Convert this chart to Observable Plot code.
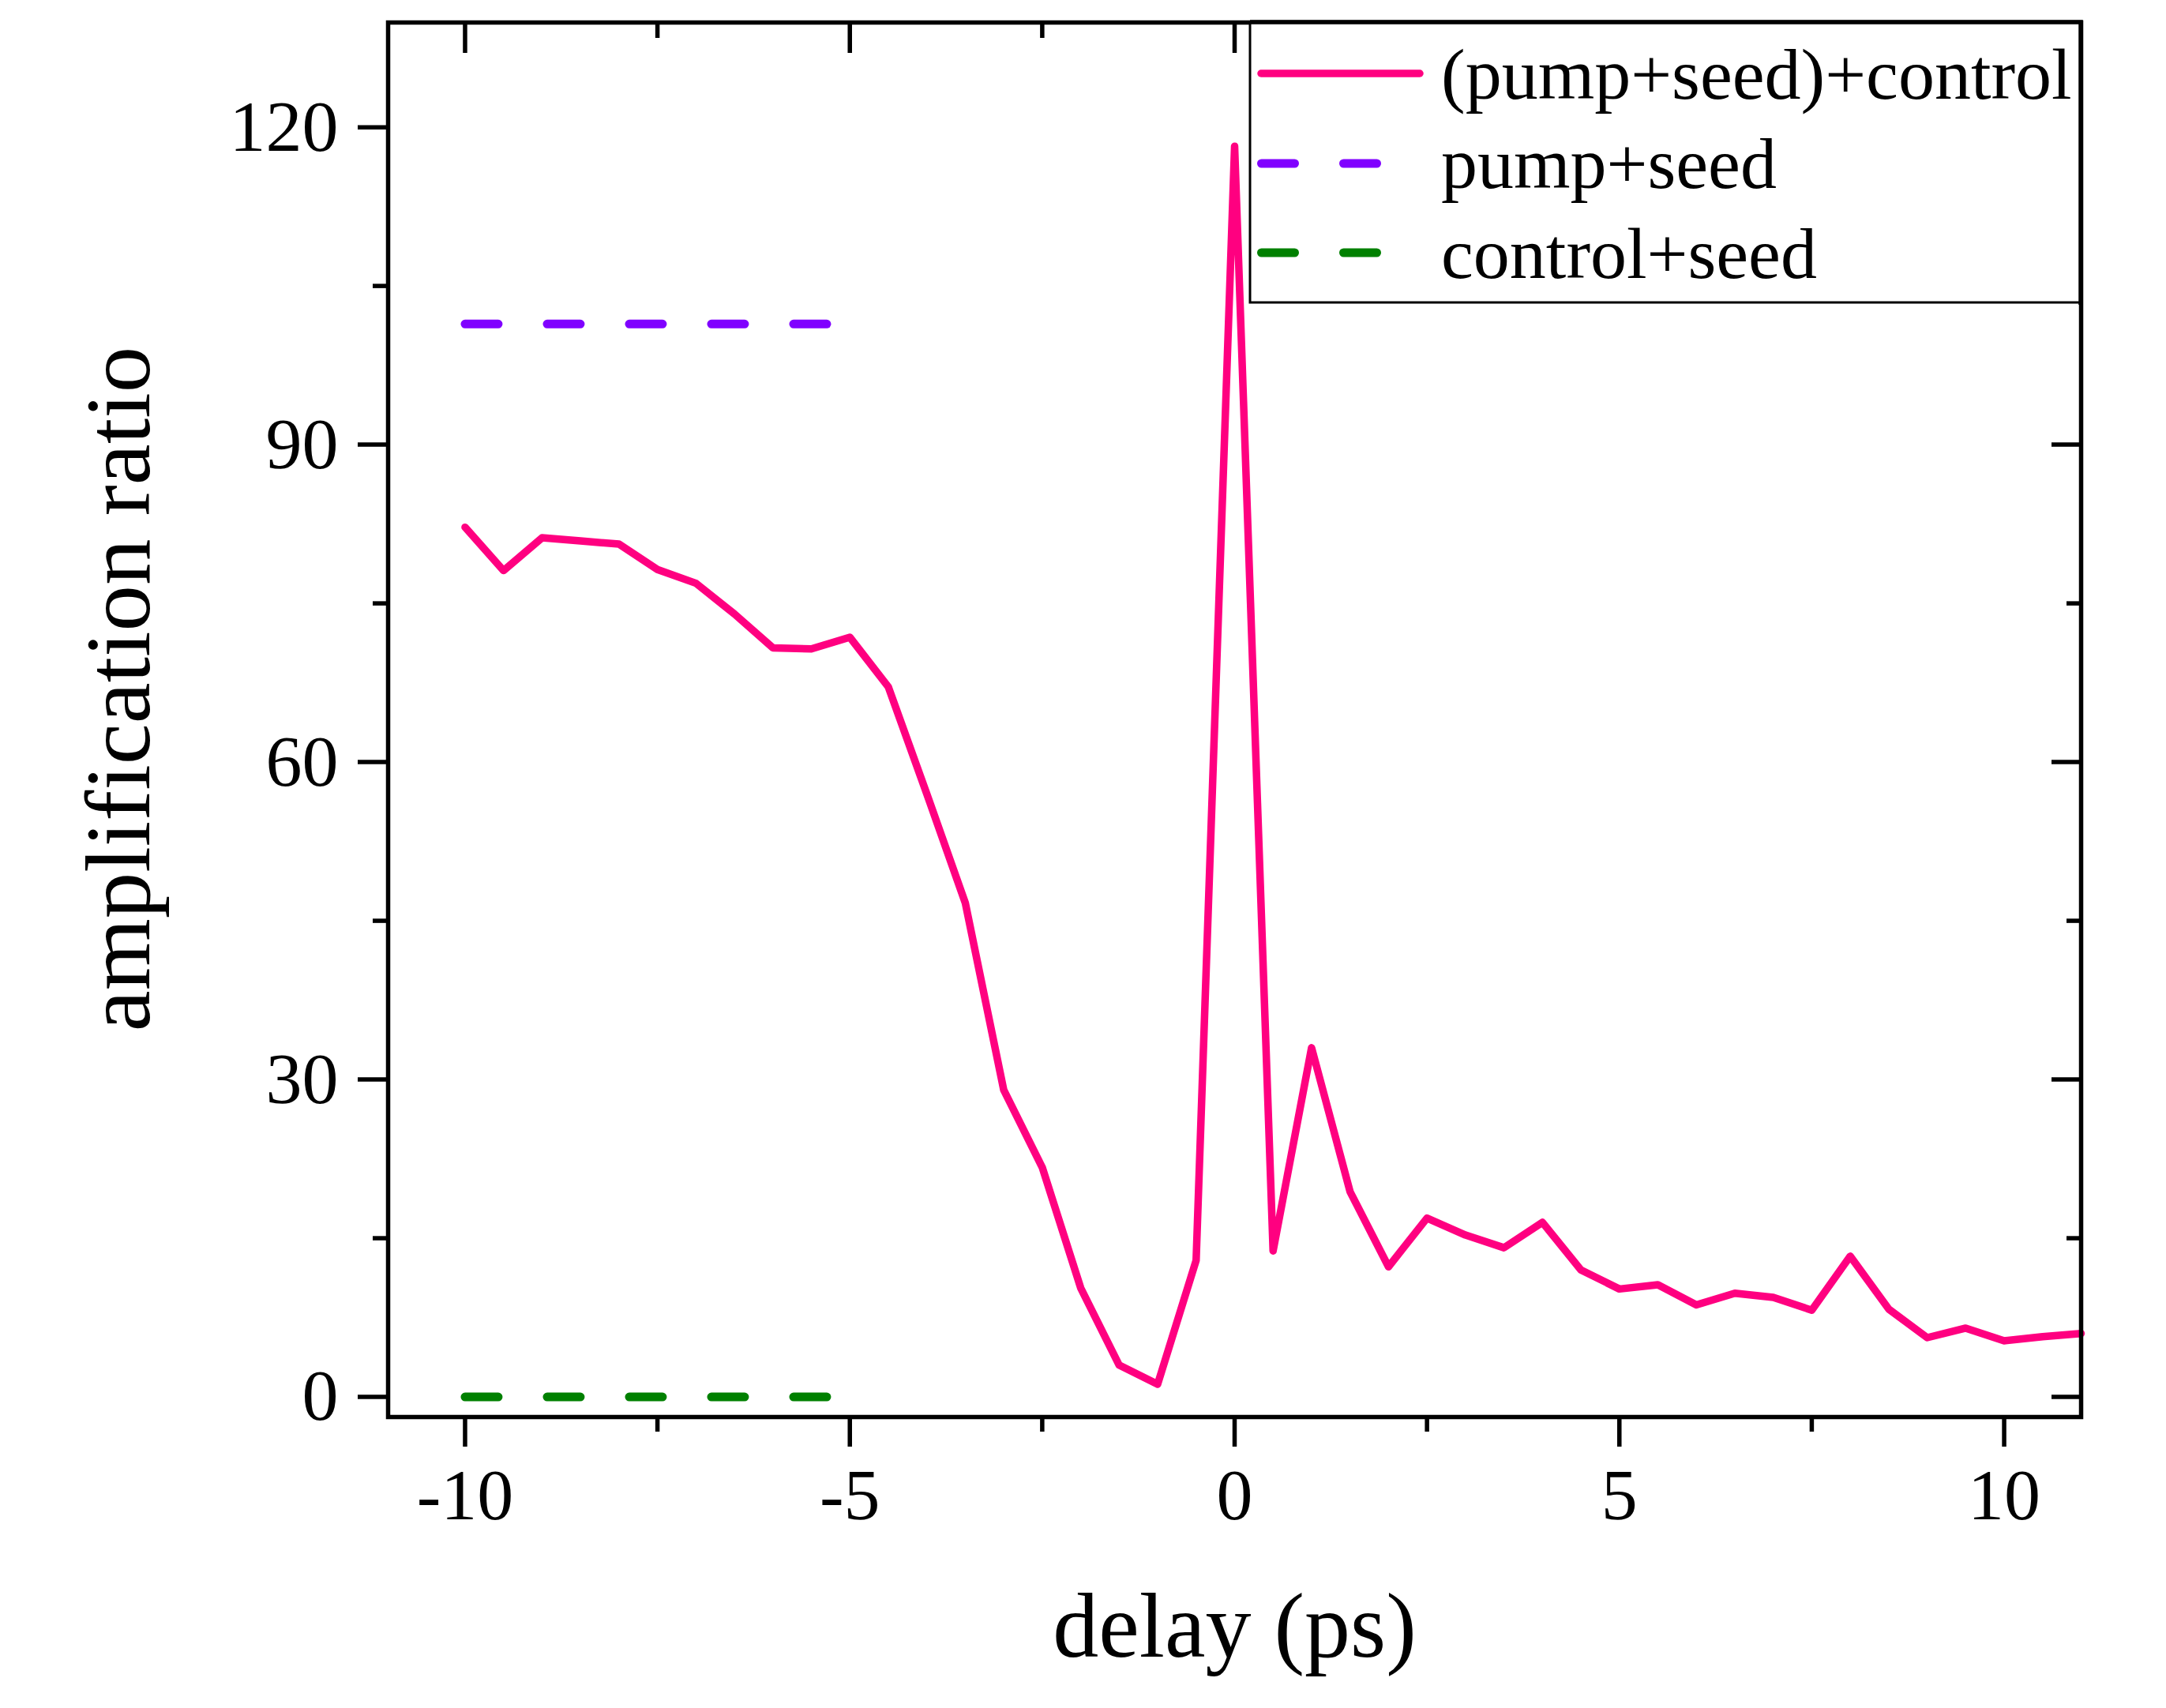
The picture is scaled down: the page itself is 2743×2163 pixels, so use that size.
<!DOCTYPE html>
<html>
<head>
<meta charset="utf-8">
<script src="https://cdn.jsdelivr.net/npm/d3@7"></script>
<script src="https://cdn.jsdelivr.net/npm/@observablehq/plot@0.6"></script>
<style>
  html, body { margin: 0; padding: 0; background: #ffffff; }
  #chart { position: relative; width: 2743px; height: 2163px; }
</style>
</head>
<body>
<div id="chart"></div>
<script>
// ---- data ----
const delay = [-10, -9.5, -9, -8.5, -8, -7.5, -7, -6.5, -6, -5.5, -5, -4.5, -4, -3.5, -3, -2.5, -2, -1.5, -1, -0.5,
               0, 0.5, 1, 1.5, 2, 2.5, 3, 3.5, 4, 4.5, 5, 5.5, 6, 6.5, 7, 7.5, 8, 8.5, 9, 9.5, 10, 10.5, 11];
const ratio = [82.2, 78.1, 81.2, 80.9, 80.6, 78.2, 76.9, 74.0, 70.8, 70.7, 71.8, 67.1, 57.0, 46.7, 29.0, 21.7, 10.3, 3.0, 1.2, 12.9,
               118.2, 13.8, 33.0, 19.4, 12.3, 16.9, 15.3, 14.1, 16.5, 12.0, 10.2, 10.6, 8.7, 9.8, 9.4, 8.2, 13.3, 8.3, 5.6, 6.5, 5.3, 5.7, 6.0];
const refDelay = [-10, -5];
const pumpSeedRatio = [101.4, 101.4];
const controlSeedRatio = [0, 0];

const seriesNames = ["(pump+seed)+control", "pump+seed", "control+seed"];
const seriesColors = ["#FF0080", "#8000FF", "#008000"];

const xMajor = [-10, -5, 0, 5, 10];
const xMinor = [-7.5, -2.5, 2.5, 7.5];
const yMajor = [0, 30, 60, 90, 120];
const yMinor = [15, 45, 75, 105];

const xTitle = "delay (ps)";
const yTitle = "amplification ratio";

// ---- tables ----
const mainData = delay.map((d, i) => ({delay: d, ratio: ratio[i]}));
const pumpSeed = refDelay.map((d, i) => ({delay: d, ratio: pumpSeedRatio[i]}));
const controlSeed = refDelay.map((d, i) => ({delay: d, ratio: controlSeedRatio[i]}));

const FONT = "'Liberation Serif', 'Times New Roman', serif";
const AX = 5.5;      // axis stroke width
const MAJ = 38, MIN = 19;

const fmt = d => `${d}`;

const plot = Plot.plot({
  width: 2743,
  height: 2163,
  marginLeft: 491,
  marginRight: 108,
  marginTop: 28,
  marginBottom: 369,
  style: {fontFamily: FONT, background: "#ffffff", color: "#000000"},
  x: {domain: [-11, 11], label: null},
  y: {domain: [-1.9, 129.9], label: null},
  marks: [
    // data
    Plot.line(pumpSeed, {x: "delay", y: "ratio", stroke: seriesColors[1], strokeWidth: 11,
      strokeDasharray: "42,62", strokeLinecap: "round"}),
    Plot.line(controlSeed, {x: "delay", y: "ratio", stroke: seriesColors[2], strokeWidth: 11,
      strokeDasharray: "42,62", strokeLinecap: "round"}),
    Plot.line(mainData, {x: "delay", y: "ratio", stroke: seriesColors[0], strokeWidth: 9.5,
      strokeLinejoin: "round", strokeLinecap: "round"}),

    // bottom axis (outward ticks, labels)
    Plot.axisX({anchor: "bottom", ticks: xMajor, tickSize: MAJ, tickPadding: 26, tickFormat: fmt,
      fontSize: 92, fontFamily: FONT, stroke: "black", fill: "black", strokeWidth: AX, label: null}),
    Plot.axisX({anchor: "bottom", ticks: xMinor, tickSize: MIN, stroke: "black", fill: "none", strokeWidth: AX, label: null}),
    // top axis (inward ticks)
    Plot.axisX({anchor: "top", ticks: xMajor, tickSize: MAJ, dy: MAJ, stroke: "black", fill: "none", strokeWidth: AX, label: null}),
    Plot.axisX({anchor: "top", ticks: xMinor, tickSize: MIN, dy: MIN, stroke: "black", fill: "none", strokeWidth: AX, label: null}),
    // left axis (outward ticks, labels)
    Plot.axisY({anchor: "left", ticks: yMajor, tickSize: MAJ, tickPadding: 25, tickFormat: fmt,
      fontSize: 92, fontFamily: FONT, stroke: "black", fill: "black", strokeWidth: AX, label: null}),
    Plot.axisY({anchor: "left", ticks: yMinor, tickSize: MIN, stroke: "black", fill: "none", strokeWidth: AX, label: null}),
    // right axis (inward ticks)
    Plot.axisY({anchor: "right", ticks: yMajor, tickSize: MAJ, dx: -MAJ, stroke: "black", fill: "none", strokeWidth: AX, label: null}),
    Plot.axisY({anchor: "right", ticks: yMinor, tickSize: MIN, dx: -MIN, stroke: "black", fill: "none", strokeWidth: AX, label: null}),

    Plot.frame({stroke: "black", strokeWidth: AX}),

    // axis titles
    Plot.text([xTitle], {text: d => d, frameAnchor: "bottom", lineAnchor: "bottom", textAnchor: "middle", dy: 303,
      fontSize: 116, fontFamily: FONT, fill: "black"}),
    Plot.text([yTitle], {text: d => d, frameAnchor: "left", rotate: -90, lineAnchor: "bottom", textAnchor: "middle",
      dx: -303, dy: -39, fontSize: 117, fontFamily: FONT, fill: "black"})
  ]
});

document.getElementById("chart").appendChild(plot);

// ---- legend (inside the plot frame, top-right) ----
const svg = d3.select(plot);
const lg = svg.append("g").attr("class", "legend").attr("text-anchor", "start");
const box = {x0: 1583, y0: 28, x1: 2635, y1: 383};
lg.append("rect")
  .attr("x", box.x0).attr("y", box.y0)
  .attr("width", box.x1 - box.x0).attr("height", box.y1 - box.y0)
  .attr("fill", "white").attr("stroke", "black").attr("stroke-width", 3);
// redraw the frame's top/right edge over the box border
lg.append("path")
  .attr("d", `M${box.x0},${box.y0}H${box.x1}V${box.y1 + 3}`)
  .attr("fill", "none").attr("stroke", "black").attr("stroke-width", AX);

const rowY = [93, 207, 320];
const baseY = [125, 238, 352];
seriesNames.forEach((name, i) => {
  if (i === 0) {
    lg.append("line")
      .attr("x1", 1597).attr("x2", 1798).attr("y1", rowY[i]).attr("y2", rowY[i])
      .attr("stroke", seriesColors[i]).attr("stroke-width", 9.5).attr("stroke-linecap", "round");
  } else {
    lg.append("line")
      .attr("x1", 1597.5).attr("x2", 1743.5).attr("y1", rowY[i]).attr("y2", rowY[i])
      .attr("stroke", seriesColors[i]).attr("stroke-width", 11).attr("stroke-linecap", "round")
      .attr("stroke-dasharray", "42,62");
  }
  lg.append("text")
    .attr("x", 1825).attr("y", baseY[i])
    .attr("text-anchor", "start")
    .attr("font-family", FONT).attr("font-size", 92).attr("fill", "black")
    .text(name);
});
</script>
</body>
</html>
